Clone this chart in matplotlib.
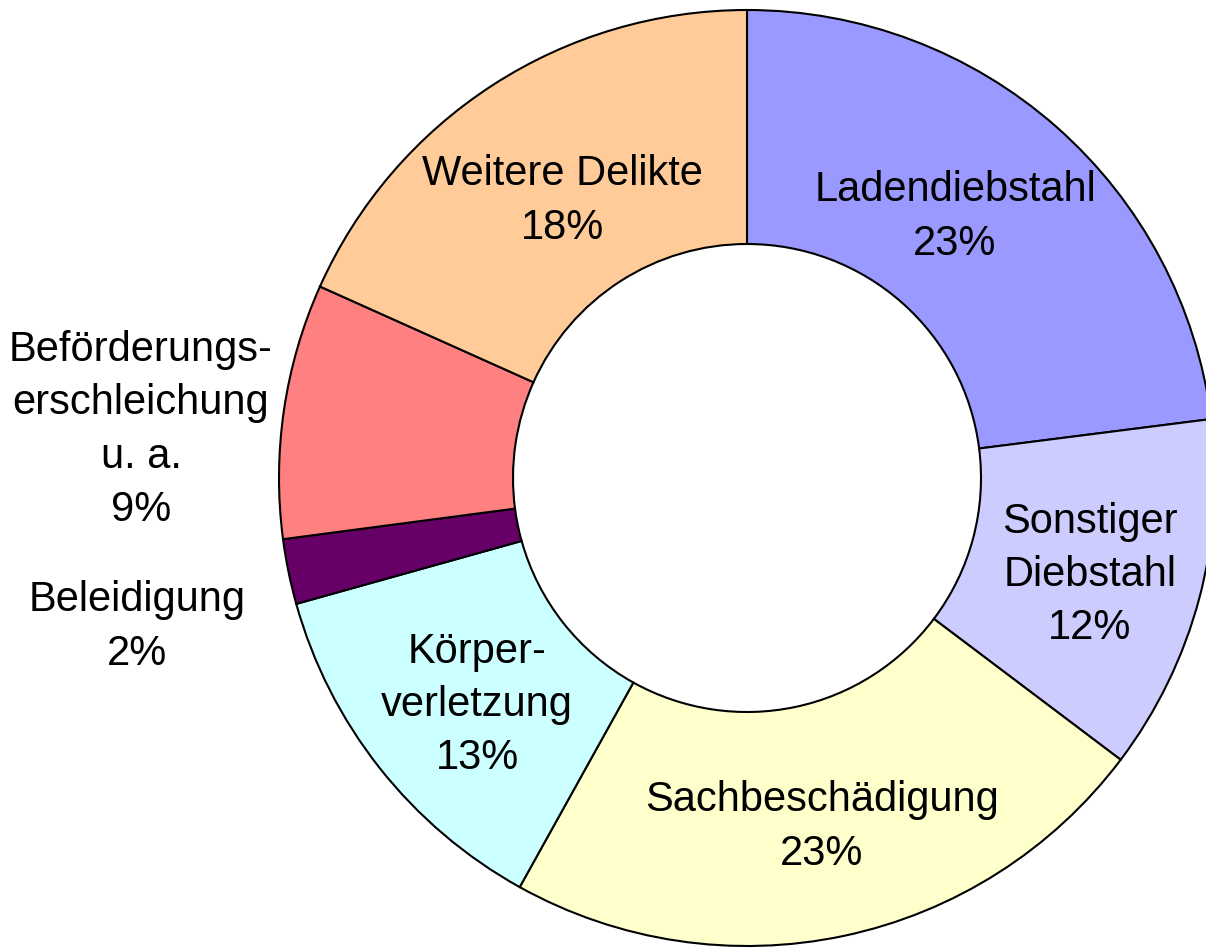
import numpy as np
import matplotlib

matplotlib.use('agg')

import matplotlib.pyplot as plt

plt.rcParams['font.family'] = ['Liberation Sans', 'DejaVu Sans']

# slices clockwise from 12 o'clock, shares
categories = ['Ladendiebstahl', 'Sonstiger\nDiebstahl', 'Sachbeschädigung',
              'Körper-\nverletzung', 'Beleidigung',
              'Beförderungs-\nerschleichung\nu. a.', 'Weitere Delikte']
shares = [23.0, 12.3, 22.8, 12.6, 2.25, 8.8, 18.3]
pct_labels = ['23%', '12%', '23%', '13%', '2%', '9%', '18%']
colors = ['#9999FF', '#CCCCFF', '#FFFFCC', '#CCFFFF', '#660066',
          '#FF8080', '#FFCC99']

# label block centres in pixels of the 1206x949 picture
label_px = [(955, 217), (1090, 575), (822, 827), (477, 705),
            (137, 627), (141, 430), (562, 201)]

CX, CY, R = 747, 478, 468   # ring centre and outer radius in pixels


def main():
    fig = plt.figure(figsize=(12.06, 9.49), dpi=100)
    ax = fig.add_axes([0, 0, 1, 1])

    ax.pie(shares, colors=colors, startangle=90, counterclock=False,
           radius=1.0,
           wedgeprops=dict(width=0.5, edgecolor='black', linewidth=1.5))

    for name, pct, (px, py) in zip(categories, pct_labels, label_px):
        ax.text((px - CX) / R, (CY - py) / R, name + '\n' + pct,
                ha='center', va='center', fontsize=30, linespacing=1.43)

    ax.set_aspect('auto')
    ax.set_xlim(-CX / R, (1206 - CX) / R)
    ax.set_ylim(-(949 - CY) / R, CY / R)
    ax.axis('off')

    fig.savefig('out.png', dpi=100)


if __name__ == '__main__':
    main()
